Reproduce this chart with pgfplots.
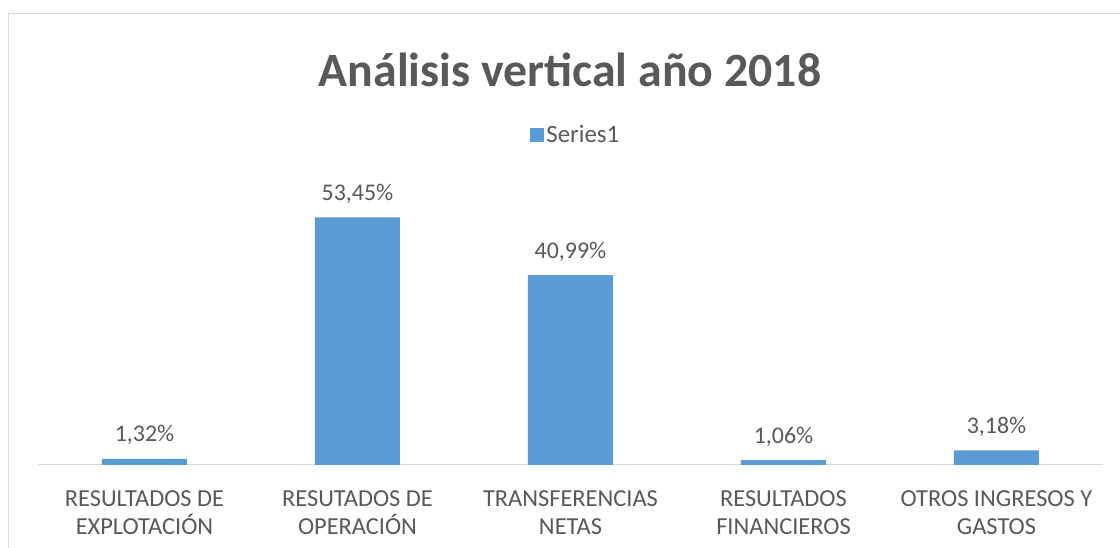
\documentclass[border=0pt]{standalone}
\usepackage{fontspec}
\setmainfont{Carlito}
\usepackage{pgfplots}
\pgfplotsset{compat=1.18}
\definecolor{barblue}{HTML}{5B9BD5}
\definecolor{txt}{HTML}{595959}
\definecolor{gridc}{HTML}{D9D9D9}
\begin{document}
\begin{tikzpicture}[x=1bp,y=1bp]
\useasboundingbox (0,0) rectangle (1120,548);
\fill[white] (0,0) rectangle (1120,548);
\begin{scope}
\clip (0,0) rectangle (1120,548);
\draw[gridc, line width=1.5bp] (8.5,-10) -- (8.5,534.5) -- (1130,534.5);
\end{scope}
\node[font=\fontsize{48}{56}\selectfont\bfseries, text=txt, anchor=base, inner sep=0pt] at (570,461) {Análisis vertical año 2018};
\begin{axis}[
  at={(38bp,83bp)}, anchor=south west, scale only axis,
  width=1065bp, height=278bp,
  xmin=-0.5, xmax=4.5, ymin=0, ymax=60,
  axis y line=none, axis x line*=bottom,
  x axis line style={gridc, line width=1bp, -},
  xtick={0,1,2,3,4}, xtick style={draw=none},
  xticklabels={RESULTADOS DE\\EXPLOTACIÓN, RESUTADOS DE\\OPERACIÓN, TRANSFERENCIAS\\NETAS, RESULTADOS\\FINANCIEROS, OTROS INGRESOS Y\\GASTOS},
  xticklabel style={align=center, font=\fontsize{24.5}{28}\selectfont, text=txt, anchor=north, inner sep=0pt, yshift=-21bp},
  ybar, bar width=85bp, bar shift=0pt, clip=false,
  /pgf/number format/assume math mode=true,
  nodes near coords={\pgfmathprintnumber[fixed, fixed zerofill, precision=2, use comma]{\pgfplotspointmeta}\%},
  nodes near coords style={font=\fontsize{24}{28}\selectfont, text=txt, anchor=base, inner sep=0pt, yshift=17bp},
  legend style={at={(0.505,1.187)}, anchor=center, draw=none, fill=none, font=\fontsize{25}{28}\selectfont, text=txt},
  legend image code/.code={\fill[barblue] (0bp,-7bp) rectangle (14bp,7bp);},
]
\addplot[fill=barblue, draw=none] coordinates {(0,1.32) (1,53.45) (2,40.99) (3,1.06) (4,3.18)};
\addlegendentry{Series1}
\end{axis}
\end{tikzpicture}
\end{document}
